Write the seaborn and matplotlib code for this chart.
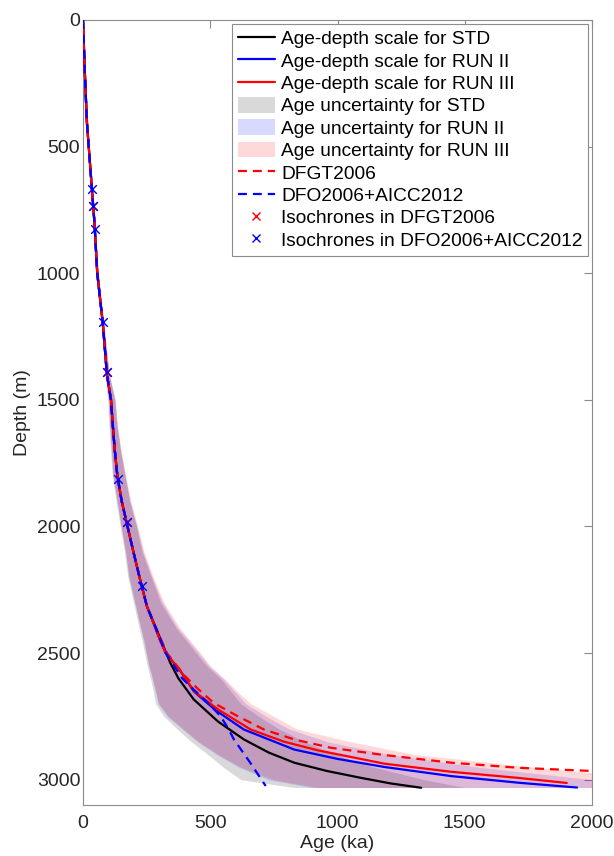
import matplotlib
matplotlib.use("Agg")
import matplotlib.pyplot as plt
import seaborn as sns
from matplotlib.patches import Patch
from matplotlib.lines import Line2D

# ---------------- data ----------------
depth_std = [0, 200, 400, 600, 800, 1000, 1200, 1400, 1500, 1600, 1700, 1800, 1900, 2000,
             2100, 2200, 2315, 2400, 2500, 2539, 2600, 2683, 2770, 2841, 2893, 2933, 2966,
             2993, 3015, 3032]
age_std = [0, 7, 15, 30, 45, 56, 78, 94, 110, 117, 125, 135, 152, 175,
           198, 222, 251, 286, 327, 343, 375, 435, 530, 632, 730, 830, 960,
           1093, 1210, 1329]

depth_run2 = [0, 200, 400, 600, 800, 1000, 1200, 1400, 1500, 1600, 1700, 1800, 1900, 2000,
              2100, 2200, 2315, 2400, 2450, 2500, 2571, 2651, 2725, 2802, 2881, 2918, 2950,
              2986, 3012, 3031]
age_run2 = [0, 7, 15, 30, 45, 56, 78, 94, 110, 117, 125, 135, 152, 175,
            198, 222, 251, 284, 303, 325, 383, 435, 520, 632, 830, 1000, 1185,
            1448, 1711, 1941]

depth_run3 = [0, 200, 400, 600, 800, 1000, 1200, 1400, 1500, 1600, 1700, 1800, 1900, 2000,
              2100, 2200, 2315, 2400, 2450, 2500, 2571, 2651, 2722, 2802, 2850, 2884, 2937,
              2969, 2993, 3013]
age_run3 = [0, 7, 15, 30, 45, 56, 78, 94, 110, 117, 125, 135, 152, 175,
            198, 222, 251, 284, 303, 325, 383, 437, 530, 659, 790, 922, 1185,
            1448, 1711, 1901]

depth_dfgt = [0, 200, 400, 600, 800, 1000, 1200, 1400, 1500, 1600, 1700, 1800, 1900, 2000,
              2100, 2200, 2315, 2400, 2500, 2590, 2640, 2697, 2745, 2802, 2841, 2874, 2901,
              2933, 2953, 2966, 2970]
age_dfgt = [0, 7, 15, 30, 45, 56, 78, 94, 110, 117, 125, 135, 152, 175,
            198, 222, 251, 287, 330, 400, 450, 514, 600, 711, 830, 974, 1170,
            1448, 1711, 2007, 2100]

depth_dfo = [0, 200, 400, 600, 800, 1000, 1200, 1400, 1500, 1600, 1700, 1800, 1900, 2000,
             2100, 2200, 2315, 2400, 2500, 2600, 2644, 2700, 2749, 2800, 2841, 2930, 3025]
age_dfo = [0, 7, 15, 30, 45, 56, 78, 94, 110, 117, 125, 135, 152, 175,
           198, 222, 251, 286, 325, 390, 435, 495, 540, 572, 593, 655, 718]

iso_dfgt_depth = [734, 1389, 1981]
iso_dfgt_age = [39, 93, 172]
iso_dfo_depth = [667, 734, 825, 1192, 1389, 1811, 1981, 2237]
iso_dfo_age = [37, 39, 47, 78, 93, 137, 172, 231]

band_depth = [0, 500, 1000, 1300, 1400, 1500, 1600, 1700, 1800, 1900, 2000, 2100, 2200, 2300,
              2400, 2450, 2500, 2550, 2600, 2650, 2700, 2750, 2800, 2850, 2900, 2950, 3000, 3031]
std_lo = [0, 19, 53, 80, 86, 97, 102, 108, 115, 130, 146, 163, 176, 198,
          220, 232, 242, 252, 265, 276, 285, 318, 370, 425, 490, 550, 620, 830]
std_hi = [0, 23, 60, 92, 103, 125, 133, 147, 165, 183, 210, 232, 268, 305,
          365, 405, 445, 485, 540, 580, 620, 690, 770, 870, 990, 1140, 1340, 1500]
run2_lo = [0, 19, 53, 81, 88, 100, 105, 112, 118, 134, 150, 167, 180, 203,
           226, 238, 248, 258, 272, 284, 295, 332, 390, 450, 525, 610, 730, 900]
run2_hi = [0, 23, 60, 92, 103, 125, 134, 148, 166, 185, 212, 236, 272, 312,
           372, 415, 455, 495, 550, 595, 640, 720, 810, 960, 1200, 1550, 2000, 2300]
run3_lo = [0, 19, 53, 81, 88, 100, 105, 112, 118, 134, 150, 167, 181, 204,
           227, 240, 250, 260, 274, 286, 298, 336, 395, 455, 530, 620, 750, 920]
run3_hi = [0, 24, 61, 93, 104, 127, 136, 150, 168, 188, 215, 240, 276, 318,
           380, 420, 462, 500, 555, 605, 660, 750, 840, 1050, 1300, 1760, 2300, 2400]

labels = ["Age-depth scale for STD", "Age-depth scale for RUN II", "Age-depth scale for RUN III",
          "Age uncertainty for STD", "Age uncertainty for RUN II", "Age uncertainty for RUN III",
          "DFGT2006", "DFO2006+AICC2012", "Isochrones in DFGT2006", "Isochrones in DFO2006+AICC2012"]

# ---------------- style ----------------
sns.set_theme(style="white")
plt.rcParams["font.family"] = ["Liberation Sans", "DejaVu Sans"]
axis_grey = "0.55"
text_col = "0.15"
BLACK, BLUE, RED = "#000000", "#0000ff", "#ff0000"
band_alpha = 0.15

fig = plt.figure(figsize=(6.14, 8.56), dpi=100)
ax = fig.add_axes([83 / 614, 1 - 805 / 856, (592 - 83) / 614, (805 - 20) / 856])

# uncertainty bands
ax.fill_betweenx(band_depth, std_lo, std_hi, color=BLACK, alpha=band_alpha, linewidth=0, zorder=1)
ax.fill_betweenx(band_depth, run2_lo, run2_hi, color=BLUE, alpha=band_alpha, linewidth=0, zorder=1)
ax.fill_betweenx(band_depth, run3_lo, run3_hi, color=RED, alpha=band_alpha, linewidth=0, zorder=1)

lw = 1.6
dash = (0, (4, 2.7))
sns.lineplot(x=age_std, y=depth_std, ax=ax, color=BLACK, lw=lw, sort=False, estimator=None, zorder=3)
sns.lineplot(x=age_run2, y=depth_run2, ax=ax, color=BLUE, lw=lw, sort=False, estimator=None, zorder=3)
sns.lineplot(x=age_run3, y=depth_run3, ax=ax, color=RED, lw=lw, sort=False, estimator=None, zorder=3)
sns.lineplot(x=age_dfgt, y=depth_dfgt, ax=ax, color=RED, lw=lw, linestyle=dash, sort=False,
             estimator=None, zorder=4)
sns.lineplot(x=age_dfo, y=depth_dfo, ax=ax, color=BLUE, lw=lw, linestyle=dash, sort=False,
             estimator=None, zorder=4)
sns.scatterplot(x=iso_dfgt_age, y=iso_dfgt_depth, ax=ax, marker="x", color=RED, s=38,
                linewidth=1.0, zorder=5)
sns.scatterplot(x=iso_dfo_age, y=iso_dfo_depth, ax=ax, marker="x", color=BLUE, s=38,
                linewidth=1.0, zorder=5)

ax.set_xlim(0, 2000)
ax.set_ylim(3100, 0)
ax.set_xticks([0, 500, 1000, 1500, 2000])
ax.set_yticks([0, 500, 1000, 1500, 2000, 2500, 3000])
ax.tick_params(axis="both", which="both", direction="in", length=6, width=0.8, color=axis_grey,
               labelsize=14, labelcolor=text_col, top=True, right=True)
ax.tick_params(axis="x", pad=7)
ax.tick_params(axis="y", pad=2)
for sp in ax.spines.values():
    sp.set_color(axis_grey)
    sp.set_linewidth(0.8)
ax.set_xlabel("Age (ka)", fontsize=14, color=text_col, labelpad=2)
ax.set_ylabel("Depth (m)", fontsize=14, color=text_col, labelpad=4)

handles = [
    Line2D([], [], color=BLACK, lw=lw),
    Line2D([], [], color=BLUE, lw=lw),
    Line2D([], [], color=RED, lw=lw),
    Patch(facecolor=BLACK, alpha=band_alpha, linewidth=0),
    Patch(facecolor=BLUE, alpha=band_alpha, linewidth=0),
    Patch(facecolor=RED, alpha=band_alpha, linewidth=0),
    Line2D([], [], color=RED, lw=lw, linestyle=dash),
    Line2D([], [], color=BLUE, lw=lw, linestyle=dash),
    Line2D([], [], color=RED, lw=0, marker="x", markersize=6, markeredgewidth=1.0),
    Line2D([], [], color=BLUE, lw=0, marker="x", markersize=6, markeredgewidth=1.0),
]
leg = ax.legend(handles, labels, loc="upper right", fontsize=13.8, frameon=True, fancybox=False,
                framealpha=1, edgecolor=axis_grey, borderpad=0.3, labelspacing=0.2,
                handlelength=1.95, handleheight=0.9, handletextpad=0.3, borderaxespad=0.2)
leg.get_frame().set_linewidth(0.8)
for t in leg.get_texts():
    t.set_color("black")

fig.savefig("out.png", dpi=100)
